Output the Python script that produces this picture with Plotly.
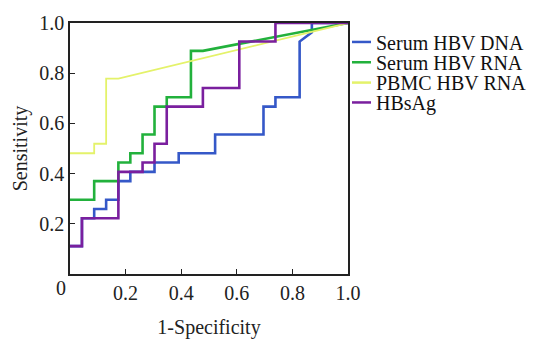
import plotly.graph_objects as go

# Series names and colours
series_names = ["Serum HBV DNA", "Serum HBV RNA", "PBMC HBV RNA", "HBsAg"]
series_colors = ["#3558c8", "#22b13c", "#e4f26a", "#7a1f9e"]

# ROC step points (1-Specificity, Sensitivity)
dna_x = [0, 0.043, 0.043, 0.087, 0.087, 0.130, 0.130, 0.174, 0.174, 0.217, 0.217,
         0.304, 0.304, 0.391, 0.391, 0.522, 0.522, 0.696, 0.696, 0.739, 0.739,
         0.826, 0.826, 0.870, 0.870, 1.0]
dna_y = [0.111, 0.111, 0.222, 0.222, 0.259, 0.259, 0.296, 0.296, 0.370, 0.370, 0.407,
         0.407, 0.444, 0.444, 0.481, 0.481, 0.556, 0.556, 0.667, 0.667, 0.704,
         0.704, 0.926, 0.963, 1.0, 1.0]

rna_x = [0, 0.087, 0.087, 0.174, 0.174, 0.217, 0.217, 0.261, 0.261, 0.304, 0.304,
         0.348, 0.348, 0.435, 0.435, 0.478, 1.0]
rna_y = [0.296, 0.296, 0.370, 0.370, 0.444, 0.444, 0.481, 0.481, 0.556, 0.556, 0.667,
         0.667, 0.704, 0.704, 0.889, 0.889, 1.0]

pbmc_x = [0, 0.087, 0.087, 0.130, 0.130, 0.174, 1.0]
pbmc_y = [0.481, 0.481, 0.519, 0.519, 0.778, 0.778, 1.0]

hbsag_x = [0, 0.043, 0.043, 0.174, 0.174, 0.261, 0.261, 0.304, 0.304, 0.348, 0.348,
           0.478, 0.478, 0.609, 0.609, 0.739, 0.739, 1.0]
hbsag_y = [0.111, 0.111, 0.222, 0.222, 0.407, 0.407, 0.444, 0.444, 0.519, 0.519, 0.667,
           0.667, 0.741, 0.741, 0.926, 0.926, 1.0, 1.0]

tick_vals = [0.2, 0.4, 0.6, 0.8, 1.0]
tick_text = ["0.2", "0.4", "0.6", "0.8", "1.0"]

FONT = "Liberation Serif, Times New Roman, serif"

xs = [dna_x, rna_x, pbmc_x, hbsag_x]
ys = [dna_y, rna_y, pbmc_y, hbsag_y]
widths = [2.6, 2.6, 1.8, 2.6]

fig = go.Figure()
for name, color, x, y, w in zip(series_names, series_colors, xs, ys, widths):
    fig.add_trace(go.Scatter(x=x, y=y, mode="lines", name=name,
                             line=dict(color=color, width=w), showlegend=False))

# Plot area geometry (pixels)
L, R, T, B = 70, 188, 20, 49
W, H = 536, 347
pw, ph = W - L - R, H - T - B

def px_to_paper_x(px):
    return (px - L) / pw

def py_to_paper_y(py):
    return (H - B - py) / ph

# Manual legend
legend_rows = [41, 63.5, 86, 108]
shapes = []
annotations = []
for name, color, row in zip(series_names, series_colors, legend_rows):
    shapes.append(dict(type="line", xref="paper", yref="paper",
                       x0=px_to_paper_x(352), x1=px_to_paper_x(371),
                       y0=py_to_paper_y(row), y1=py_to_paper_y(row),
                       line=dict(color=color, width=2.5)))
    annotations.append(dict(xref="paper", yref="paper",
                            x=px_to_paper_x(374), y=py_to_paper_y(row + 1),
                            text=name, showarrow=False, xanchor="left", yanchor="middle",
                            font=dict(family=FONT, size=20, color="#111")))

# shared origin label "0"
annotations.append(dict(xref="paper", yref="paper", x=px_to_paper_x(61), y=py_to_paper_y(313),
                        text="0", showarrow=False, xanchor="center", yanchor="middle",
                        font=dict(family=FONT, size=20, color="#222")))

axis_common = dict(range=[0, 1], showgrid=False, zeroline=False, showline=True,
                   linecolor="#222", linewidth=1.5, mirror=True,
                   ticks="inside", ticklen=5, tickwidth=1.3, tickcolor="#222",
                   tickvals=tick_vals, ticktext=tick_text,
                   tickfont=dict(family=FONT, size=20, color="#222"))

fig.update_layout(
    width=W, height=H,
    margin=dict(l=L, r=R, t=T, b=B, pad=0),
    paper_bgcolor="white", plot_bgcolor="white",
    xaxis=dict(**axis_common,
               title=dict(text="1-Specificity", font=dict(family=FONT, size=20, color="#222"),
                          standoff=17)),
    yaxis=dict(**axis_common,
               title=dict(text="Sensitivity", font=dict(family=FONT, size=20, color="#222"),
                          standoff=6)),
    shapes=shapes,
    annotations=annotations,
)

fig.write_html("out.html", config={"displayModeBar": False},
               post_script="document.body.style.margin='0';document.body.style.overflow='hidden';")
